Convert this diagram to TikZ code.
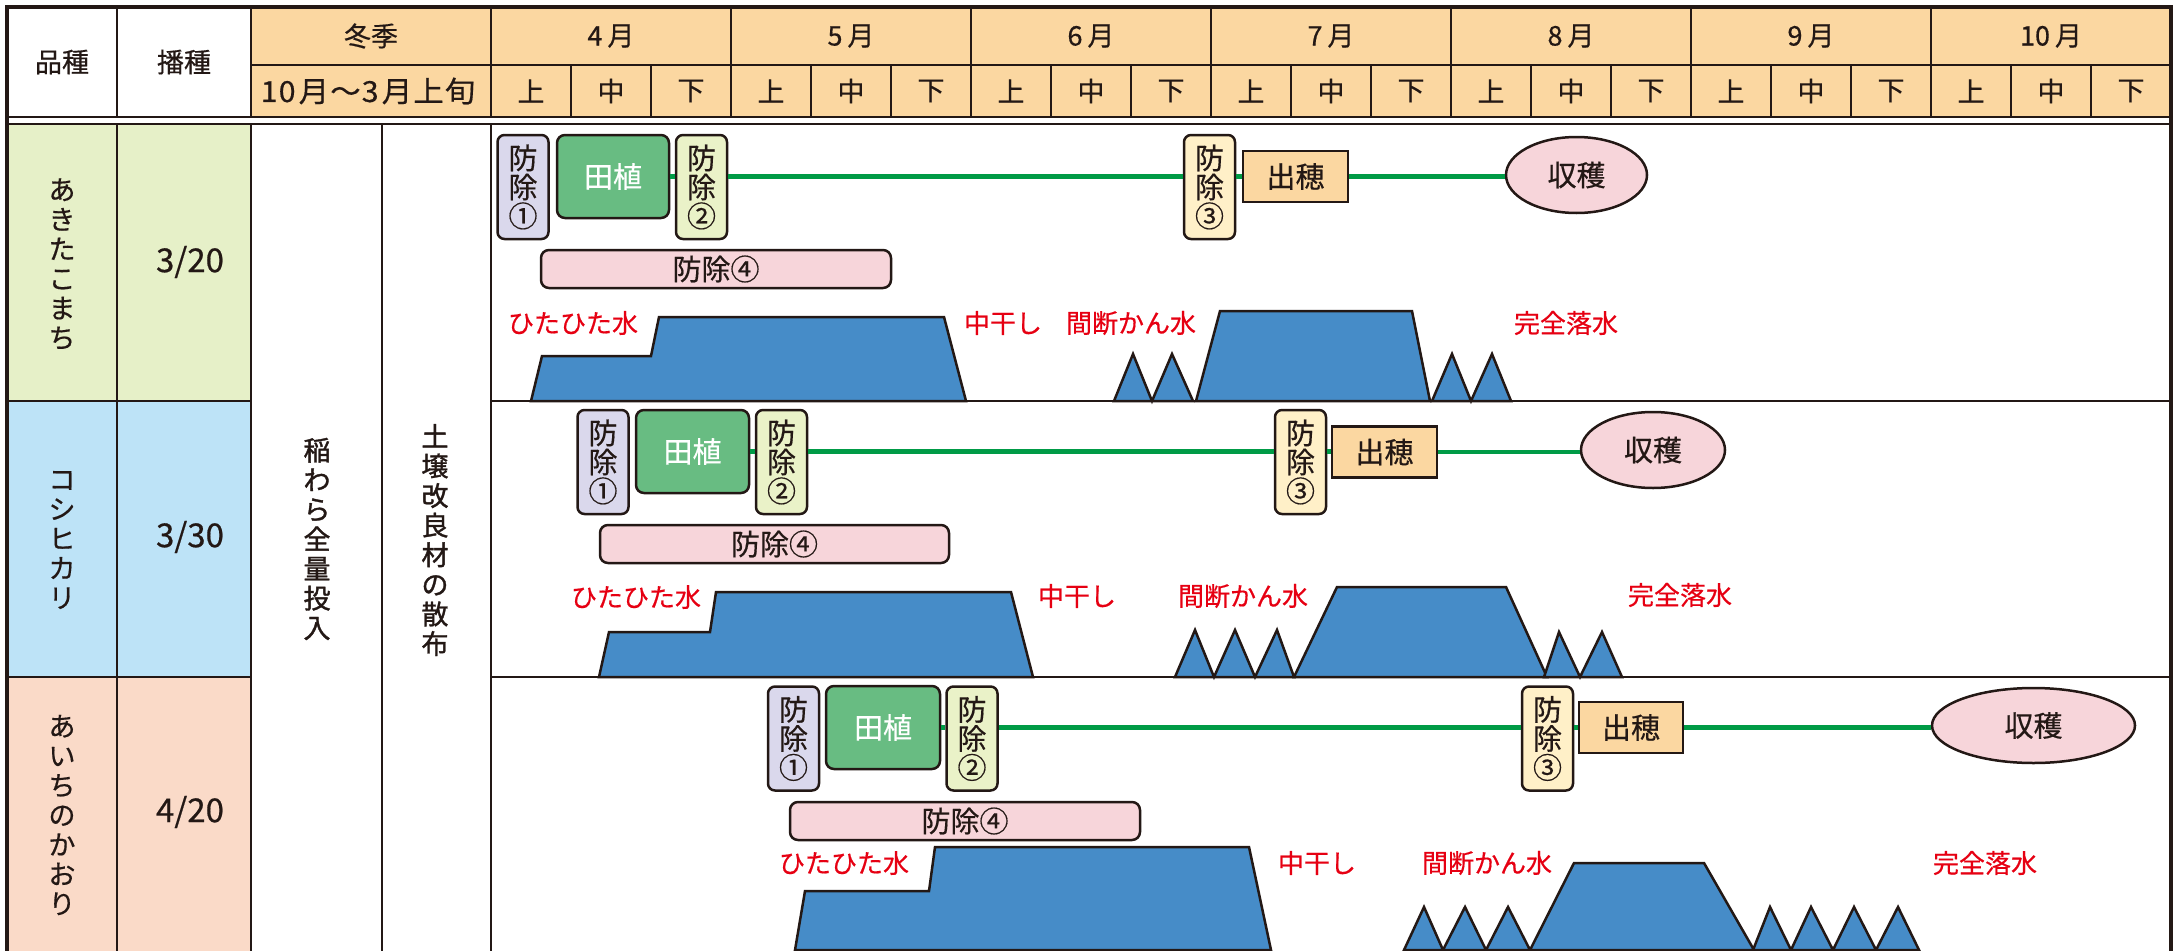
\documentclass[tikz,border=0pt]{standalone}
\usepackage{fontspec}
\setmainfont{Noto Sans CJK JP}[FakeBold=0.5]
\newfontfamily\heavyjp{Noto Sans CJK JP}[FakeBold=1.3]
\usetikzlibrary{shapes.geometric}
\definecolor{ink}{HTML}{231815}
\definecolor{hdrc}{HTML}{FBD7A1}
\definecolor{rowA}{HTML}{E6F0C8}
\definecolor{rowB}{HTML}{BDE3F7}
\definecolor{rowC}{HTML}{FADAC8}
\definecolor{pc1}{HTML}{DAD8EC}
\definecolor{pc2}{HTML}{EAF2C8}
\definecolor{pc3}{HTML}{FFF0C8}
\definecolor{taucol}{HTML}{68BC82}
\definecolor{pinkc}{HTML}{F7D5DA}
\definecolor{waterc}{HTML}{468CC8}
\definecolor{greenc}{HTML}{009B46}
\definecolor{redc}{HTML}{E60012}
\newcommand{\fHead}{\fontsize{27}{29}\selectfont}
\newcommand{\fBox}{\fontsize{29}{29}\selectfont}
\newcommand{\fLab}{\fontsize{26}{26}\selectfont}
\newcommand{\fVert}{\fontsize{27}{29.6}\selectfont}
\newcommand{\fNum}{\fontsize{33}{33}\selectfont}
\begin{document}
\begin{tikzpicture}[x=1pt,y=-1pt,
  gridln/.style={draw=ink,line width=2.5},
  outerln/.style={draw=ink,line width=4.5},
  htext/.style={font=\fHead,text=ink,inner sep=0},
  vtext/.style={font=\fVert,text=ink,inner sep=0,align=center},
  pv/.style={draw=ink,line width=2.5,rounded corners=7,minimum width=51,minimum height=104,inner sep=0,align=center,font=\fBox,text=ink},
  tau/.style={draw=ink,line width=2.5,rounded corners=8,fill=taucol,text=white,minimum height=83,inner sep=0,font=\fBox},
  hd/.style={draw=ink,line width=2.5,fill=hdrc,minimum width=105,minimum height=51,inner sep=0,font=\fBox,text=ink},
  harv/.style={ellipse,draw=ink,line width=2.5,fill=pinkc,minimum height=76,inner sep=0,font=\fBox,text=ink},
  bfour/.style={draw=ink,line width=2.5,rounded corners=8,fill=pinkc,minimum height=38,inner sep=0,font=\fBox,text=ink},
  lab/.style={text=redc,font=\fLab,inner sep=0},
  water/.style={fill=waterc,draw=ink,line width=2.5,line join=miter},
  gline/.style={draw=greenc,line width=4.5}]
\useasboundingbox (0,0) rectangle (2175,950);
\clip (0,0) rectangle (2175,950);
% fills
\fill[hdrc] (251,7) rectangle (2171,117);
\fill[rowA] (7,124) rectangle (251,401);
\fill[rowB] (7,401) rectangle (251,677);
\fill[rowC] (7,677) rectangle (251,955);
% header grid
\draw[gridln] (251,65) -- (2171,65);
\draw[gridln] (7,117) -- (2171,117);
\draw[gridln] (117,7) -- (117,117);
\draw[gridln] (251,7) -- (251,117);
\foreach \k in {0,...,6} {\draw[gridln] (491+240*\k,7) -- (491+240*\k,117);}
\foreach \k in {0,...,6} {
  \draw[gridln] (571+240*\k,65) -- (571+240*\k,117);
  \draw[gridln] (651+240*\k,65) -- (651+240*\k,117);
}
% body grid
\draw[gridln] (7,124) -- (2171,124);
\draw[gridln] (7,401) -- (251,401);
\draw[gridln] (491,401) -- (2171,401);
\draw[gridln] (7,677) -- (251,677);
\draw[gridln] (491,677) -- (2171,677);
\foreach \x in {117,251,382,491} {\draw[gridln] (\x,124) -- (\x,955);}
\draw[outerln] (7,7) rectangle (2171,953);
% header text
\node[htext] (hv) at (62,62) {品種};
\node[htext] (hs) at (184,62) {播種};
\node[htext] (hw) at (371,36) {冬季};
\node[htext,font=\fontsize{29}{29}\selectfont] (hw2) at (368,91) {\scalebox{1.05}[1]{1\kern1pt0\kern3pt月\kern1pt～\kern1pt3\kern3pt月\kern1pt上\kern1pt旬}};
\foreach \m [count=\k from 0] in {4,5,6,7,8,9,10} {
  \node[htext] (mon\m) at (611+240*\k,36) {\m\kern5pt月};
}
\foreach \d [count=\j from 0] in {上,中,下,上,中,下,上,中,下,上,中,下,上,中,下,上,中,下,上,中,下} {
  \node[htext] (dk\j) at (531+80*\j,91) {\d};
}
% left columns
\node[vtext] (va) at (62,264) {あ\\き\\た\\こ\\ま\\ち};
\node[vtext] (vb) at (62,540) {コ\\シ\\ヒ\\カ\\リ};
\node[vtext] (vc) at (62,815) {あ\\い\\ち\\の\\か\\お\\り};
\node[font=\fNum,text=ink,inner sep=0] (sa) at (190,262) {3/20};
\node[font=\fNum,text=ink,inner sep=0] (sb) at (190,537) {3/30};
\node[font=\fNum,text=ink,inner sep=0] (sc) at (190,812) {4/20};
\node[vtext,font=\fVert\heavyjp] (straw) at (317,539) {稲\\わ\\ら\\全\\量\\投\\入};
\node[vtext,font=\fVert\heavyjp] (soil) at (435,540) {土\\壌\\改\\良\\材\\の\\散\\布};
% ---------- row 1
\node[pv,fill=pc1] (b1a) at (523,187) {防\\除\\①};
\node[tau,minimum width=112] (taua) at (613,176.5) {田植};
\node[pv,fill=pc2] (b2a) at (701.5,187) {防\\除\\②};
\node[bfour,minimum width=350] (b4a) at (716,269) {防除④};
\node[pv,fill=pc3] (b3a) at (1209.5,187) {防\\除\\③};
\node[hd] (hda) at (1295.5,176.5) {出穂};
\node[harv,minimum width=141] (harva) at (1576.5,175) {収穫};
\draw[gline] (taua.east) -- (taua.east -| b2a.west);
\draw[gline] (taua.east -| b2a.east) -- (taua.east -| b3a.west);
\draw[gline] (taua.east -| b3a.east) -- (hda.west);
\draw[gline] (hda.east) -- (hda.east -| harva.west);
\node[lab] (la1) at (573,323) {ひたひた水};
\node[lab] (la2) at (1003,323) {中干し};
\node[lab] (la3) at (1131,323) {間断かん水};
\node[lab] (la4) at (1566,323) {完全落水};
\draw[water] (531,401) -- (542,356) -- (651,356) -- (659,317) -- (944,317) -- (966,401) -- cycle;
\draw[water] (1114,401) -- (1133,354) -- (1152,401) -- (1172,354) -- (1193,401) -- cycle;
\draw[water] (1196,401) -- (1220,311) -- (1412,311) -- (1430,401) -- cycle;
\draw[water] (1432,401) -- (1452,354) -- (1471,401) -- (1492,354) -- (1511,401) -- cycle;
% ---------- row 2
\node[pv,fill=pc1] (b1b) at (603,462) {防\\除\\①};
\node[tau,minimum width=113] (taub) at (692.5,451.5) {田植};
\node[pv,fill=pc2] (b2b) at (781.5,462) {防\\除\\②};
\node[bfour,minimum width=349] (b4b) at (774.5,544) {防除④};
\node[pv,fill=pc3] (b3b) at (1300.5,462) {防\\除\\③};
\node[hd] (hdb) at (1384.5,452) {出穂};
\node[harv,minimum width=144] (harvb) at (1653,450) {収穫};
\draw[gline] (taub.east) -- (taub.east -| b2b.west);
\draw[gline] (taub.east -| b2b.east) -- (taub.east -| b3b.west);
\draw[gline] (taub.east -| b3b.east) -- (taub.east -| hdb.west);
\draw[gline] (hdb.east) -- (hdb.east -| harvb.west);
\node[lab] (lb1) at (636,597) {ひたひた水};
\node[lab] (lb2) at (1077,596) {中干し};
\node[lab] (lb3) at (1243,596) {間断かん水};
\node[lab] (lb4) at (1680,595) {完全落水};
\draw[water] (599,677) -- (609,632) -- (710,632) -- (716,592) -- (1011,592) -- (1033,677) -- cycle;
\draw[water] (1175,677) -- (1195,630) -- (1214,677) -- (1235,630) -- (1255,677) -- (1277,630) -- (1294,677) -- cycle;
\draw[water] (1294,677) -- (1337,587) -- (1506,587) -- (1547,677) -- cycle;
\draw[water] (1544,677) -- (1559,632) -- (1580,677) -- (1602,632) -- (1622,677) -- cycle;
% ---------- row 3
\node[pv,fill=pc1] (b1c) at (793.5,738.5) {防\\除\\①};
\node[tau,minimum width=114] (tauc) at (883,727.5) {田植};
\node[pv,fill=pc2] (b2c) at (972,738.5) {防\\除\\②};
\node[bfour,minimum width=350] (b4c) at (965,821) {防除④};
\node[pv,fill=pc3] (b3c) at (1547.5,738.5) {防\\除\\③};
\node[hd,minimum width=104] (hdc) at (1631,727.5) {出穂};
\node[harv,minimum width=203,minimum height=75] (harvc) at (2033.5,725.5) {収穫};
\draw[gline] (tauc.east) -- (tauc.east -| b2c.west);
\draw[gline] (tauc.east -| b2c.east) -- (tauc.east -| b3c.west);
\draw[gline] (tauc.east -| b3c.east) -- (hdc.west);
\draw[gline] (hdc.east) -- (hdc.east -| harvc.west);
\node[lab] (lc1) at (844,863) {ひたひた水};
\node[lab] (lc2) at (1317,863) {中干し};
\node[lab] (lc3) at (1487,863) {間断かん水};
\node[lab] (lc4) at (1985,863) {完全落水};
\draw[water] (795,950) -- (805,891) -- (929,891) -- (935,847) -- (1249,847) -- (1271,950) -- cycle;
\draw[water] (1404,950) -- (1424,907) -- (1443,950) -- (1465,907) -- (1486,950) -- (1508,907) -- (1530,950) -- cycle;
\draw[water] (1530,950) -- (1574,863) -- (1704,863) -- (1754,950) -- cycle;
\draw[water] (1753,950) -- (1770,907) -- (1791,950) -- (1811,907) -- (1833,950) -- (1854,907) -- (1876,950) -- (1898,907) -- (1919,950) -- cycle;
\end{tikzpicture}
\end{document}
